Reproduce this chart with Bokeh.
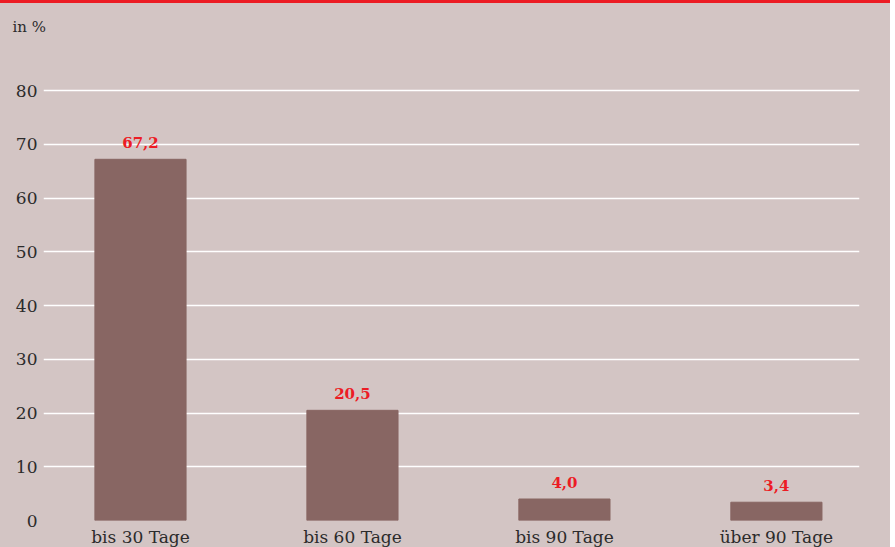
from bokeh.plotting import figure
from bokeh.models import Range1d, FixedTicker, ColumnDataSource, Div
from bokeh.layouts import column
from bokeh.embed import file_html
from bokeh.resources import INLINE
from bokeh.core.properties import value

categories = ["bis 30 Tage", "bis 60 Tage", "bis 90 Tage", "über 90 Tage"]
values = [67.2, 20.5, 4.0, 3.4]
y_ticks = [0, 10, 20, 30, 40, 50, 60, 70, 80]
unit_label = "in %"

BG = "#d3c5c4"
BAR = "#886663"
RED = "#ec1c24"
TXT = "#2b2b2b"
FONT = "DejaVu Serif"

xs = list(range(len(categories)))
src = ColumnDataSource(dict(
    x=xs,
    top=values,
    label=[f"{v:.1f}".replace(".", ",") for v in values],
))

p = figure(width=890, height=546, output_backend="svg", toolbar_location=None,
           x_range=Range1d(-0.4575, 3.392), y_range=Range1d(0, 88),
           min_border_left=43, min_border_right=31, min_border_top=44, min_border_bottom=29,
           styles={"background-color": BG})
p.background_fill_color = None
p.border_fill_color = None
p.outline_line_color = None

p.title.text = unit_label
p.title.text_font = FONT
p.title.text_font_size = "15px"
p.title.text_font_style = "normal"
p.title.text_color = TXT
p.title.align = "left"
p.title.offset = -31
p.title.standoff = 24

p.vbar(x="x", top="top", width=0.43, bottom=0, source=src, color=BAR)
p.text(x="x", y="top", text="label", source=src, text_align="center",
       text_baseline="bottom", y_offset=-11, text_color=RED,
       text_font=value(FONT), text_font_style="bold", text_font_size="15px")

p.xgrid.grid_line_color = None
p.ygrid.grid_line_color = "white"
p.ygrid.grid_line_width = 1.5
p.yaxis.ticker = FixedTicker(ticks=y_ticks)
p.xaxis.ticker = FixedTicker(ticks=xs)
p.xaxis.major_label_overrides = {i: c for i, c in zip(xs, categories)}

for ax in (p.xaxis[0], p.yaxis[0]):
    ax.axis_line_color = None
    ax.major_tick_line_color = None
    ax.minor_tick_line_color = None
    ax.major_tick_out = 0
    ax.major_tick_in = 0
    ax.minor_tick_out = 0
    ax.minor_tick_in = 0
    ax.major_label_text_font = FONT
    ax.major_label_text_font_size = "17px"
    ax.major_label_text_color = TXT
p.yaxis.major_label_standoff = 6
p.xaxis.major_label_standoff = 6

bar = Div(width=890, height=3, margin=0, styles={"background-color": RED})
layout = column(bar, p, spacing=0, margin=0)

html = file_html(layout, INLINE)
html = html.replace("<head>", "<head><style>html,body{margin:0;padding:0;background:#ffffff}</style>", 1)
open("out.html", "w").write(html)
